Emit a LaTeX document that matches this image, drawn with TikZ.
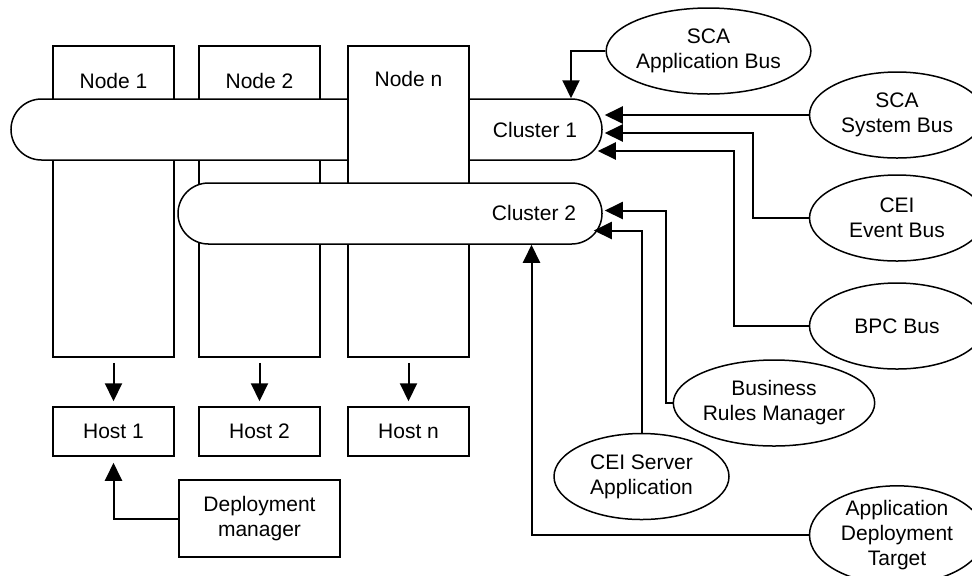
\documentclass[tikz,border=0pt]{standalone}
\usepackage{fontspec}
\setmainfont{Liberation Sans}
\usetikzlibrary{arrows.meta,shapes.geometric,shapes.misc,calc}
\begin{document}
\begin{tikzpicture}[x=0.5pt, y=-0.5pt,
	every node/.style={font=\fontsize{10.5}{12.5}\selectfont},
	column/.style={rectangle, draw=black, fill=white, line width=0.75pt, inner sep=0pt, minimum width=60.5pt, minimum height=155.5pt},
	host/.style={rectangle, draw=black, fill=white, line width=0.75pt, inner sep=0pt, minimum width=60.5pt, minimum height=24.5pt},
	cluster/.style={rounded rectangle, draw=black, fill=white, line width=0.75pt, inner sep=0pt, minimum height=30.5pt},
	bus/.style={ellipse, draw=black, fill=white, line width=0.75pt, inner sep=0pt, minimum width=87.5pt, minimum height=43pt, align=center},
	conn/.style={-{Triangle[length=9pt, width=8.5pt]}, line width=1pt}]
	\useasboundingbox (0,0) rectangle (972,575);
	% nodes, clusters and hosts
	\node[column](node1) at (113.5,201.5){};
	\node[column](node2) at (259.5,201.5){};
	\node[cluster, minimum width=295.5pt](clusterone) at (306.5,129.5){};
	\node[column](noden) at (408.5,201.5){};
	\node[cluster, minimum width=212pt](clustertwo) at (390,213.5){};
	\node(node1txt) at ($(node1.north)+(0,36)$){Node 1};
	\node(node2txt) at ($(node2.north)+(0,36)$){Node 2};
	\node(nodentxt) at ($(noden.north)+(0,34)$){Node n};
	\node(clonetxt) at (535,129.5){Cluster 1};
	\node(cltwotxt) at (534,213){Cluster 2};
	\node[host](host1) at (113.5,431.5){Host 1};
	\node[host](host2) at (259.5,431.5){Host 2};
	\node[host](hostn) at (408.5,431.5){Host n};
	\node[host, minimum width=80.5pt, minimum height=38.5pt, align=center](depman) at (259.5,518.5){Deployment\\manager};
	% buses and applications
	\node[bus](appbus) at (708.5,51){SCA\\Application Bus};
	\node[bus](sysbus) at (897,115){SCA\\System Bus};
	\node[bus](eventbus) at (897,218){CEI\\Event Bus};
	\node[bus](bpcbus) at (897,326){BPC Bus};
	\node[bus](rules) at (774,403){Business\\Rules Manager};
	\node[bus](ceiserver) at (641.5,476.5){CEI Server\\Application};
	\node[bus](deptarget) at (897,535){Application\\Deployment\\Target};
	% connectors
	\draw [conn] ([yshift=-2.5pt]node1.south) -- ([yshift=2.5pt]host1.north);
	\draw [conn] ([yshift=-2.5pt]node2.south) -- ([yshift=2.5pt]host2.north);
	\draw [conn] ([yshift=-2.5pt]noden.south) -- ([yshift=2.5pt]hostn.north);
	\draw [conn] (depman.west) -| ([yshift=-3pt]host1.south);
	\draw [conn] (appbus.west) -| ($(clusterone.north)+(264.5,0)$);
	\draw [conn] (sysbus.west) -- ([xshift=1pt]sysbus.west -| clusterone.east);
	\draw [conn] (eventbus.west) -| ($(clusterone.east)+(150,3.5)$) -- ($(clusterone.east)+(2,3.5)$);
	\draw [conn] (bpcbus.west) -| ($(clusterone.east)+(131,21.5)$) -- ($(clusterone.east)+(-5,21.5)$);
	\draw [conn] (rules.west) -| ($(clustertwo.east)+(63,-3)$) -- ($(clustertwo.east)+(2,-3)$);
	\draw [conn] (ceiserver.north) |- ($(clustertwo.east)+(-9,17)$);
	\draw [conn] (deptarget.west) -| ($(clustertwo.south)+(141.5,0)$);
\end{tikzpicture}
\end{document}
